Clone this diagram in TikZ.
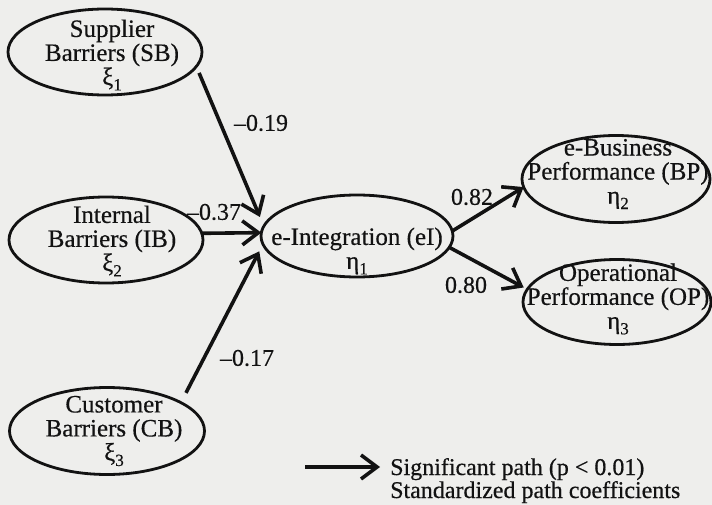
\documentclass[tikz,border=0pt]{standalone}
\usepackage{fontspec}
\setmainfont{Liberation Serif}[FakeBold=0.4]
\newfontfamily\legfont{Liberation Serif}[FakeBold=0.5]
\usetikzlibrary{arrows.meta,shapes.geometric}
\definecolor{bg}{RGB}{238,238,236}
\definecolor{ink}{RGB}{18,18,18}
\newcommand\subx[1]{\raisebox{-0.22em}{\fontsize{17}{17}\selectfont #1}}
\begin{document}
\begin{tikzpicture}[x=1pt,y=-1pt,
  latent/.style 2 args={ellipse, draw=ink, line width=2.8pt, minimum width=#1,
    minimum height=#2, inner sep=0pt, outer sep=0pt},
  lbl/.style={font=\fontsize{25}{24}\selectfont, align=center, text=ink, inner sep=0pt},
  coef/.style={font=\fontsize{24}{24}\selectfont, text=ink, inner sep=0pt},
  legtext/.style={font=\legfont\fontsize{24}{24}\selectfont, text=ink, inner sep=0pt},
  arr/.style={-{Straight Barb[length=16pt,width=24pt]}, line width=3.6pt, draw=ink}]
\useasboundingbox (0,0) rectangle (712,505);
\fill[bg] (0,0) rectangle (712,505);

\node[latent={194pt}{86pt}, label={[lbl,xshift=7pt,yshift=-3pt]center:{Supplier\\Barriers (SB)\\ξ\subx{1}}}] (SB) at (105,52) {};
\node[latent={194pt}{86pt}, label={[lbl,xshift=6pt,yshift=-1pt]center:{Internal\\Barriers (IB)\\ξ\subx{2}}}] (IB) at (106,240) {};
\node[latent={195pt}{87pt}, label={[lbl,xshift=7pt]center:{Customer\\Barriers (CB)\\ξ\subx{3}}}] (CB) at (107,431) {};
\node[latent={192pt}{82pt}, label={[lbl,yshift=-15pt]center:{e-Integration (eI)\\η\subx{1}}}] (eI) at (357,236) {};
\node[latent={188pt}{87pt}, label={[lbl,xshift=2pt,yshift=5pt]center:{e-Business\\Performance (BP)\\η\subx{2}}}] (BP) at (616,179) {};
\node[latent={188pt}{85pt}, label={[lbl,xshift=1pt,yshift=3pt]center:{Operational\\Performance (OP)\\η\subx{3}}}] (OP) at (617,302) {};

\draw[arr, shorten <=7pt, shorten >=10pt] (SB.-9) -- (eI.174);
\draw[arr] (IB.4) -- (eI.178);
\draw[arr, shorten <=11pt, shorten >=8pt] (CB.21) -- (eI.185.6);
\draw[arr] (eI.3.6) -- (BP.185.6);
\draw[arr, shorten >=4pt] (eI.-7) -- (OP.172.4);

\node[coef] (c19) at (261,123) {–0.19};
\node[coef] (c37) at (214,212) {–0.37};
\node[coef] (c17) at (247,358) {–0.17};
\node[coef] (c82) at (472,197) {0.82};
\node[coef] (c80) at (466,285) {0.80};

\node[legtext, anchor=base west] (leg1) at (390,475) {Significant path (p < 0.01)};
\node[legtext, anchor=base west] (leg2) at (390,498) {Standardized path coefficients};
\coordinate (legA) at (305,467);
\draw[arr, shorten >=10pt] (legA) -- (legA -| leg1.west);
\end{tikzpicture}
\end{document}
